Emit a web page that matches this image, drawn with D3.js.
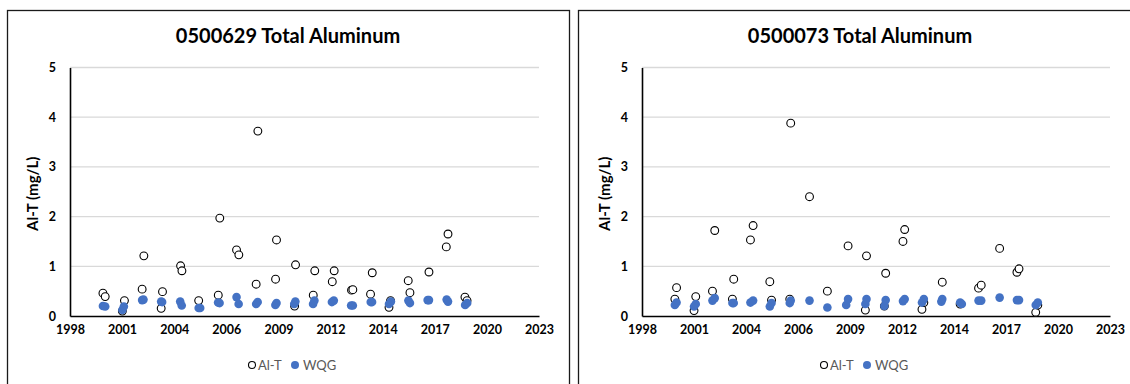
<!DOCTYPE html>
<html>
<head>
<meta charset="utf-8">
<script src="https://cdn.jsdelivr.net/npm/d3@7"></script>
<style>
  body { margin: 0; background: #fff; }
  svg { display: block; font-family: Lato, "Open Sans", sans-serif; }
</style>
</head>
<body>
<svg id="chart" width="1130" height="384"></svg>
<script>
// x values are decimal years
const xTickLabels = ["1998", "2001", "2004", "2006", "2009", "2012", "2014", "2017", "2020", "2023"];
const yTicks = [0, 1, 2, 3, 4, 5];

const site1Title = "0500629 Total Aluminum";
const site1AltYears = [2000.27, 2000.39, 2001.29, 2001.40, 2002.33, 2002.42, 2003.33, 2003.40, 2004.35, 2004.42,
  2005.30, 2006.33, 2006.41, 2007.29, 2007.41, 2008.32, 2008.41, 2009.34, 2009.39, 2010.34, 2010.39,
  2011.32, 2011.40, 2012.32, 2012.42, 2013.33, 2013.40, 2014.33, 2014.42, 2015.30, 2015.38,
  2016.31, 2016.40, 2017.40, 2018.31, 2018.40, 2019.29, 2019.40];
const site1Alt = [0.46, 0.39, 0.10, 0.31, 0.54, 1.21, 0.155, 0.49, 1.01, 0.91,
  0.31, 0.42, 1.97, 1.33, 1.23, 0.64, 3.72, 0.74, 1.53, 0.20, 1.03,
  0.42, 0.91, 0.69, 0.91, 0.52, 0.53, 0.44, 0.87, 0.175, 0.31,
  0.71, 0.47, 0.885, 1.39, 1.65, 0.38, 0.31];
const site1WqgYears = [2000.27, 2000.39, 2001.29, 2001.37, 2002.33, 2002.40, 2003.33, 2003.38, 2004.33, 2004.41,
  2005.30, 2005.38, 2006.32, 2006.40, 2007.29, 2007.40, 2008.32, 2008.40, 2009.33, 2009.39,
  2010.32, 2010.38, 2011.31, 2011.38, 2012.30, 2012.40, 2013.31, 2013.40, 2014.34, 2014.41,
  2015.30, 2015.40, 2016.32, 2016.40, 2017.33, 2017.40, 2018.33, 2018.40, 2019.30, 2019.41];
const site1Wqg = [0.20, 0.19, 0.12, 0.19, 0.32, 0.33, 0.29, 0.28, 0.29, 0.21,
  0.16, 0.16, 0.27, 0.26, 0.38, 0.24, 0.24, 0.28, 0.22, 0.26,
  0.24, 0.29, 0.24, 0.31, 0.28, 0.31, 0.21, 0.21, 0.28, 0.28,
  0.24, 0.29, 0.31, 0.26, 0.32, 0.32, 0.33, 0.29, 0.22, 0.26];

const site2Title = "0500073 Total Aluminum";
const site2AltYears = [2000.27, 2000.36, 2001.28, 2001.37, 2002.25, 2002.37, 2003.30, 2003.37, 2004.25, 2004.39,
  2005.27, 2005.36, 2006.32, 2006.37, 2007.36, 2008.30, 2009.39, 2010.30, 2010.36,
  2011.30, 2011.37, 2012.28, 2012.37, 2013.28, 2013.38, 2014.35, 2015.29,
  2016.26, 2016.40, 2017.37, 2018.28, 2018.39, 2019.27, 2019.38];
const site2Alt = [0.34, 0.57, 0.11, 0.39, 0.50, 1.72, 0.34, 0.74, 1.53, 1.82,
  0.69, 0.32, 0.34, 3.88, 2.40, 0.50, 1.41, 0.12, 1.21,
  0.20, 0.86, 1.50, 1.74, 0.135, 0.27, 0.68, 0.24,
  0.56, 0.62, 1.36, 0.88, 0.95, 0.075, 0.22];
const site2WqgYears = [2000.27, 2000.36, 2001.28, 2001.37, 2002.25, 2002.37, 2003.30, 2003.37, 2004.25, 2004.39,
  2005.27, 2005.36, 2006.32, 2006.37, 2007.36, 2008.30, 2009.29, 2009.39, 2010.30, 2010.36,
  2011.30, 2011.37, 2012.28, 2012.37, 2013.28, 2013.38, 2014.30, 2014.35, 2015.29, 2015.38,
  2016.26, 2016.40, 2017.37, 2018.28, 2018.39, 2019.27, 2019.38];
const site2Wqg = [0.22, 0.27, 0.19, 0.24, 0.31, 0.36, 0.26, 0.26, 0.27, 0.31,
  0.19, 0.26, 0.26, 0.31, 0.31, 0.17, 0.22, 0.34, 0.24, 0.34,
  0.20, 0.32, 0.30, 0.34, 0.27, 0.34, 0.29, 0.34, 0.27, 0.24,
  0.31, 0.31, 0.37, 0.32, 0.32, 0.22, 0.27];

const xStartYear = 1998.54;      // axis minimum
const xStepYears = 1000 / 365.25; // major unit of 1000 days

class AluminumPanel {

  constructor(_config, _data) {
    this.config = {
      parentElement: _config.parentElement,
      frameLeft: _config.frameLeft,
      frameWidth: _config.frameWidth,
      plotLeft: _config.plotLeft,
      plotWidth: _config.plotWidth,
      titleX: _config.titleX,
      legendX: _config.legendX,
      plotTop: 67.5,
      plotBottom: 316
    }
    this.data = _data;
    this.initVis();
  }

  initVis() {
    let vis = this;
    let c = vis.config;

    vis.svg = d3.select(c.parentElement);
    vis.g = vis.svg.append('g');

    // panel frame
    vis.g.append('rect')
      .attr('x', c.frameLeft + 0.5)
      .attr('y', 10.5)
      .attr('width', c.frameWidth)
      .attr('height', 420)
      .attr('fill', 'none')
      .attr('stroke', '#1a1a1a')
      .attr('stroke-width', 1.3);

    vis.g.append('text')
      .attr('x', c.titleX)
      .attr('y', 42.5)
      .attr('text-anchor', 'middle')
      .style('font-size', '20px')
      .style('font-weight', 'bold')
      .style('fill', '#000')
      .text(vis.data.title);

    vis.xScale = d3.scaleLinear()
      .domain([xStartYear, xStartYear + 9 * xStepYears])
      .range([c.plotLeft, c.plotLeft + c.plotWidth]);
    vis.yScale = d3.scaleLinear()
      .domain([0, 5])
      .range([c.plotBottom, c.plotTop]);

    vis.updateVis();
  }

  updateVis() {
    let vis = this;
    let c = vis.config;

    // gridlines
    vis.g.selectAll('.grid')
      .data(yTicks.filter(d => d > 0))
      .join('line')
      .attr('class', 'grid')
      .attr('x1', c.plotLeft)
      .attr('x2', c.plotLeft + c.plotWidth)
      .attr('y1', d => vis.yScale(d))
      .attr('y2', d => vis.yScale(d))
      .attr('stroke', '#d9d9d9')
      .attr('stroke-width', 1.3);

    let xTickVals = xTickLabels.map((d, i) => xStartYear + i * xStepYears);
    vis.xAxis = d3.axisBottom(vis.xScale)
      .tickValues(xTickVals)
      .tickFormat((d, i) => xTickLabels[i])
      .tickSize(0)
      .tickPadding(9);
    vis.yAxis = d3.axisLeft(vis.yScale)
      .tickValues(yTicks)
      .tickFormat(d3.format('d'))
      .tickSize(0)
      .tickPadding(14);

    vis.xAxisGroup = vis.g.append('g')
      .attr('transform', `translate(0,${c.plotBottom})`)
      .call(vis.xAxis);
    vis.yAxisGroup = vis.g.append('g')
      .attr('transform', `translate(${c.plotLeft},0)`)
      .call(vis.yAxis);

    [vis.xAxisGroup, vis.yAxisGroup].forEach(ax => {
      ax.select('.domain').attr('stroke', '#000').attr('stroke-width', 1.6);
      ax.selectAll('text')
        .style('font-family', 'Lato, sans-serif')
        .style('font-size', '12.5px')
        .style('font-weight', 'bold')
        .style('fill', '#000');
    });

    vis.g.append('text')
      .attr('transform', `translate(${c.plotLeft - 32},${(c.plotTop + c.plotBottom) / 2 + 2}) rotate(-90)`)
      .attr('text-anchor', 'middle')
      .style('font-size', '15px')
      .style('font-weight', 'bold')
      .style('fill', '#000')
      .text('Al-T (mg/L)');

    // Al-T open circles first, WQG drawn over them
    vis.g.append('g').selectAll('circle')
      .data(vis.data.altYears.map((d, i) => [d, vis.data.alt[i]]))
      .join('circle')
      .attr('cx', d => vis.xScale(d[0]))
      .attr('cy', d => vis.yScale(d[1]))
      .attr('r', 3.9)
      .attr('fill', '#fff')
      .attr('stroke', '#000')
      .attr('stroke-width', 1.1);

    vis.g.append('g').selectAll('circle')
      .data(vis.data.wqgYears.map((d, i) => [d, vis.data.wqg[i]]))
      .join('circle')
      .attr('cx', d => vis.xScale(d[0]))
      .attr('cy', d => vis.yScale(d[1]))
      .attr('r', 4.3)
      .attr('fill', '#4472c4');

    // legend
    let lg = vis.g.append('g').attr('transform', `translate(${c.legendX},365)`);
    lg.append('circle').attr('cx', 0).attr('cy', 0).attr('r', 3.5)
      .attr('fill', '#fff').attr('stroke', '#000').attr('stroke-width', 1.1);
    lg.append('text').attr('x', 6).attr('y', 4.8)
      .style('font-size', '13px').style('fill', '#595959').text('Al-T');
    lg.append('circle').attr('cx', 43).attr('cy', 0).attr('r', 4).attr('fill', '#4472c4');
    lg.append('text').attr('x', 51).attr('y', 4.8)
      .style('font-size', '13px').style('fill', '#595959').text('WQG');
  }
}

new AluminumPanel({
  parentElement: '#chart', frameLeft: 7, frameWidth: 562, plotLeft: 70, plotWidth: 469,
  titleX: 288, legendX: 252
}, { title: site1Title, altYears: site1AltYears, alt: site1Alt, wqgYears: site1WqgYears, wqg: site1Wqg });

new AluminumPanel({
  parentElement: '#chart', frameLeft: 578, frameWidth: 600, plotLeft: 642, plotWidth: 468,
  titleX: 860, legendX: 824
}, { title: site2Title, altYears: site2AltYears, alt: site2Alt, wqgYears: site2WqgYears, wqg: site2Wqg });
</script>
</body>
</html>
